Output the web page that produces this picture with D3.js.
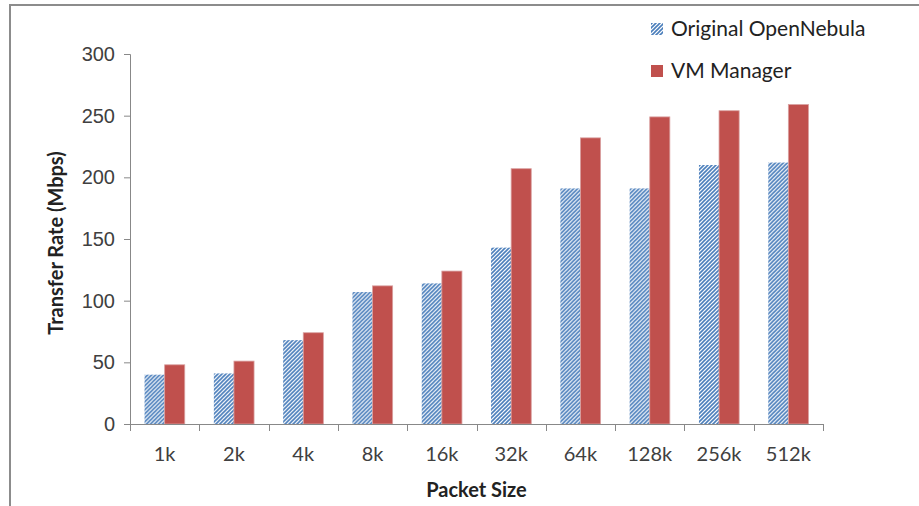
<!DOCTYPE html>
<html>
<head>
<meta charset="utf-8">
<script src="https://cdn.jsdelivr.net/npm/d3@7"></script>
<style>
  body { margin: 0; background: #fff; }
  svg { display: block; font-family: Lato, "Open Sans", sans-serif; }
</style>
</head>
<body>
<div id="chart"></div>
<script>
const categories = ["1k", "2k", "4k", "8k", "16k", "32k", "64k", "128k", "256k", "512k"]
const seriesNames = ["Original OpenNebula", "VM Manager"]
const openNebula = [40, 41, 68, 107, 114, 143, 191, 191, 210, 212]
const vmManager = [48, 51, 74, 112, 124, 207, 232, 249, 254, 259]
const yTicks = [0, 50, 100, 150, 200, 250, 300]

const W = 919, H = 506
const margin = {top: 54, right: 96, bottom: 82, left: 130}
const w = W - margin.left - margin.right,
	h = H - margin.top - margin.bottom

const svg = d3.select("#chart")
	.append("svg")
	.attr("width", W)
	.attr("height", H)

// pattern for the hatched series
const defs = svg.append("defs")
const pat = defs.append("pattern")
	.attr("id", "hatch")
	.attr("patternUnits", "userSpaceOnUse")
	.attr("width", 4)
	.attr("height", 4)
pat.append("rect").attr("width", 4).attr("height", 4).attr("fill", "#fff")
pat.append("path")
	.attr("d", "M-1,1 l2,-2 M0,4 l4,-4 M3,5 l2,-2")
	.attr("stroke", "#4a7ebb")
	.attr("stroke-width", 1.6)

// outer frame (top and left edge only visible)
svg.append("path")
	.attr("d", `M10,${H} V5 H${W}`)
	.attr("fill", "none")
	.attr("stroke", "#8c8c8c")
	.attr("stroke-width", 2)

const g = svg.append("g")
	.attr("transform", `translate(${margin.left},${margin.top})`)

const x = d3.scaleBand()
	.domain(categories)
	.range([0, w])
	.paddingInner(0.42)
	.paddingOuter(0.21)

const xInner = d3.scaleBand()
	.domain(seriesNames)
	.range([0, x.bandwidth()])

const y = d3.scaleLinear()
	.domain([0, 300])
	.range([h, 0])

// y axis
const yAxis = g.append("g")
	.call(d3.axisLeft(y).tickValues(yTicks).tickSize(6).tickPadding(9))
yAxis.select(".domain").attr("stroke", "#888").attr("d", `M-6,0.5 H0.5 V${h}`)
yAxis.selectAll(".tick line").attr("stroke", "#888")
yAxis.selectAll(".tick text")
	.attr("fill", "#404040")
	.style("font-size", "20px")

// bars
const data = categories.map((c, i) => ({cat: c, vals: [openNebula[i], vmManager[i]]}))

const groups = g.selectAll(".grp")
	.data(data)
	.enter()
	.append("g")
	.attr("class", "grp")
	.attr("transform", d => `translate(${x(d.cat)},0)`)

groups.selectAll("rect")
	.data(d => d.vals.map((v, j) => ({name: seriesNames[j], v: v})))
	.enter()
	.append("rect")
	.attr("x", d => xInner(d.name))
	.attr("width", xInner.bandwidth())
	.attr("y", d => y(d.v))
	.attr("height", d => h - y(d.v))
	.attr("fill", d => d.name === seriesNames[0] ? "url(#hatch)" : "#c0504d")
	.attr("stroke", d => d.name === seriesNames[0] ? "none" : "#d9a0a0")
	.attr("stroke-width", 0.8)

// x axis
const xStep = w / categories.length
const xAxis = g.append("g")
	.attr("transform", `translate(0,${h})`)
xAxis.append("line")
	.attr("x1", 0).attr("x2", w)
	.attr("y1", 0.5).attr("y2", 0.5)
	.attr("stroke", "#888")
xAxis.selectAll(".xt")
	.data(d3.range(categories.length + 1))
	.enter()
	.append("line")
	.attr("x1", d => Math.round(d * xStep) + 0.5)
	.attr("x2", d => Math.round(d * xStep) + 0.5)
	.attr("y1", 0).attr("y2", 7)
	.attr("stroke", "#888")
xAxis.selectAll(".xl")
	.data(categories)
	.enter()
	.append("text")
	.attr("x", d => x(d) + x.bandwidth() / 2)
	.attr("y", 37)
	.attr("text-anchor", "middle")
	.attr("fill", "#404040")
	.style("font-size", "20px")
	.text(d => d)

// axis titles
svg.append("text")
	.attr("transform", `translate(63,${margin.top + h / 2 + 4}) rotate(-90)`)
	.attr("text-anchor", "middle")
	.attr("fill", "#222")
	.style("font-size", "20px")
	.style("font-weight", "bold")
	.text("Transfer Rate (Mbps)")

svg.append("text")
	.attr("x", margin.left + w / 2)
	.attr("y", 497)
	.attr("text-anchor", "middle")
	.attr("fill", "#222")
	.style("font-size", "20px")
	.style("font-weight", "bold")
	.text("Packet Size")

// legend
const legend = svg.append("g")
	.attr("transform", "translate(651,20)")
seriesNames.forEach(function(name, i) {
	legend.append("rect")
		.attr("x", 0)
		.attr("y", i * 42 + 3)
		.attr("width", 12)
		.attr("height", 12)
		.attr("fill", i === 0 ? "url(#hatch)" : "#c0504d")
	legend.append("text")
		.attr("x", 20)
		.attr("y", i * 42 + 16)
		.attr("fill", "#222")
		.style("font-size", "21px")
		.text(name)
})
</script>
</body>
</html>
